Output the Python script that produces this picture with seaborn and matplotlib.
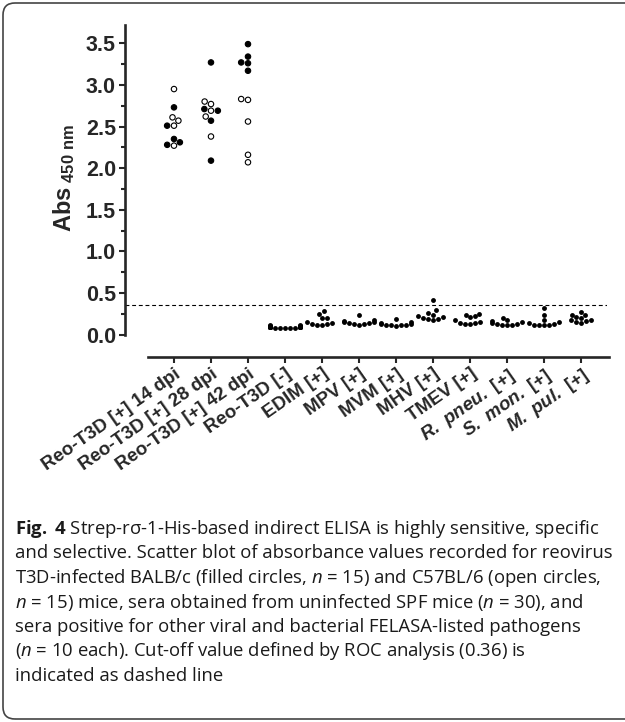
import numpy as np
import pandas as pd
import matplotlib
matplotlib.use("Agg")
import matplotlib.pyplot as plt
import seaborn as sns
from matplotlib.patches import FancyBboxPatch
from matplotlib.transforms import IdentityTransform
from matplotlib.ticker import MultipleLocator, FixedLocator, FormatStrFormatter

# --- Data ---
groups = ["Reo-T3D [+] 14 dpi", "Reo-T3D [+] 28 dpi", "Reo-T3D [+] 42 dpi",
          "Reo-T3D [-]", "EDIM [+]", "MPV [+]", "MVM [+]", "MHV [+]",
          "TMEV [+]", "R. pneu. [+]", "S. mon. [+]", "M. pul. [+]"]
tick_labels = ["Reo-T3D [+] 14 dpi", "Reo-T3D [+] 28 dpi", "Reo-T3D [+] 42 dpi",
               "Reo-T3D [-]", "EDIM [+]", "MPV [+]", "MVM [+]", "MHV [+]",
               "TMEV [+]", r"$\mathsf{R.\ pneu.}$ [+]",
               r"$\mathsf{S.\ mon.}$ [+]", r"$\mathsf{M.\ pul.}$ [+]"]

# infected mice: BALB/c (filled) and C57BL/6 (open)
balb_14 = [2.73, 2.51, 2.35, 2.31, 2.28]
c57_14 = [2.95, 2.61, 2.57, 2.51, 2.27]
balb_28 = [3.27, 2.71, 2.69, 2.57, 2.09]
c57_28 = [2.80, 2.77, 2.69, 2.62, 2.38]
balb_42 = [3.49, 3.34, 3.27, 3.26, 3.17]
c57_42 = [2.83, 2.82, 2.56, 2.16, 2.07]

# uninfected SPF mice (n = 30)
uninfected = [0.11, 0.11, 0.10, 0.10, 0.10, 0.10, 0.10, 0.10, 0.095, 0.095,
              0.095, 0.095, 0.09, 0.09, 0.09, 0.09, 0.09, 0.09, 0.09, 0.09,
              0.085, 0.085, 0.085, 0.085, 0.085, 0.08, 0.08, 0.08, 0.08, 0.075]

# other FELASA pathogens (n = 10 each)
edim = [0.28, 0.25, 0.20, 0.20, 0.15, 0.14, 0.13, 0.13, 0.12, 0.12]
mpv = [0.23, 0.17, 0.16, 0.15, 0.15, 0.14, 0.14, 0.13, 0.13, 0.12]
mvm = [0.19, 0.15, 0.14, 0.13, 0.13, 0.12, 0.12, 0.11, 0.11, 0.10]
mhv = [0.41, 0.29, 0.26, 0.24, 0.22, 0.21, 0.20, 0.19, 0.19, 0.18]
tmev = [0.25, 0.24, 0.22, 0.21, 0.17, 0.15, 0.14, 0.14, 0.13, 0.13]
rpneu = [0.20, 0.17, 0.16, 0.15, 0.14, 0.13, 0.13, 0.12, 0.12, 0.11]
smon = [0.32, 0.24, 0.17, 0.15, 0.14, 0.13, 0.12, 0.12, 0.11, 0.11]
mpul = [0.27, 0.24, 0.23, 0.21, 0.20, 0.18, 0.17, 0.16, 0.15, 0.14]

cutoff = 0.36

caption_lines = [
    r"$\mathbf{Fig.}$ $\mathbf{4}$ Strep-rσ-1-His-based indirect ELISA is highly sensitive, specific",
    "and selective. Scatter blot of absorbance values recorded for reovirus",
    r"T3D-infected BALB/c (filled circles, $n$ = 15) and C57BL/6 (open circles,",
    r"$n$ = 15) mice, sera obtained from uninfected SPF mice ($n$ = 30), and",
    "sera positive for other viral and bacterial FELASA-listed pathogens",
    r"($n$ = 10 each). Cut-off value defined by ROC analysis (0.36) is",
    "indicated as dashed line",
]

# --- Build long tables ---
rows = []
for g, b, c in [(groups[0], balb_14, c57_14), (groups[1], balb_28, c57_28),
                (groups[2], balb_42, c57_42)]:
    rows += [(g, "BALB/c", v) for v in b]
    rows += [(g, "C57BL/6", v) for v in c]
infected = pd.DataFrame(rows, columns=["group", "strain", "value"])

rows = []
for g, vals in zip(groups[3:], [uninfected, edim, mpv, mvm, mhv, tmev, rpneu, smon, mpul]):
    rows += [(g, v) for v in vals]
others = pd.DataFrame(rows, columns=["group", "value"])

# --- Style ---
sns.set_style("ticks")
plt.rcParams["font.family"] = ["Liberation Sans", "DejaVu Sans"]
plt.rcParams["mathtext.fontset"] = "custom"
plt.rcParams["mathtext.sf"] = "Liberation Sans:italic:bold"
plt.rcParams["mathtext.tt"] = "Liberation Sans:bold"
plt.rcParams["mathtext.bf"] = "Open Sans:bold"
plt.rcParams["mathtext.it"] = "Open Sans:italic"
plt.rcParams["mathtext.rm"] = "Open Sans"

fig = plt.figure(figsize=(6.25, 7.22), dpi=100)
ax = fig.add_axes([0.2, 0.5055, 0.771, 0.4599])

sns.swarmplot(data=infected, x="group", y="value", hue="strain", order=groups,
              palette={"BALB/c": "black", "C57BL/6": "white"},
              edgecolor="black", linewidth=0.8, size=3.9, legend=False,
              warn_thresh=1, ax=ax)
sns.swarmplot(data=others, x="group", y="value", order=groups, color="black",
              size=3.5, warn_thresh=1, ax=ax)

ax.axhline(cutoff, color="black", lw=0.8, ls=(0, (3.5, 2.5)), zorder=0)

ax.set_xlim(-1.324, 11.70)
ax.set_ylim(-0.27, 3.72)
ax.spines["top"].set_visible(False)
ax.spines["right"].set_visible(False)
ax.spines["left"].set_bounds(0, 3.72)
ax.spines["bottom"].set_bounds(-0.7, 11.75)
for s in ["left", "bottom"]:
    ax.spines[s].set_linewidth(1.9)

ax.yaxis.set_major_locator(MultipleLocator(0.5))
ax.yaxis.set_minor_locator(FixedLocator([0.25, 0.75, 1.25, 1.75, 2.25, 2.75, 3.25]))
ax.yaxis.set_major_formatter(FormatStrFormatter("%.1f"))
ax.tick_params(axis="y", which="major", length=4.5, width=1.5, labelsize=15.5, pad=2)
ax.tick_params(axis="y", which="minor", length=3, width=1.5)
ax.tick_params(axis="x", length=4, width=1.5, pad=2)
for t in ax.get_yticklabels():
    t.set_fontweight("bold")

ax.set_xticks(range(len(groups)))
ax.set_xticklabels(tick_labels, rotation=35, ha="right", va="top",
                   rotation_mode="anchor", fontsize=13.5, fontweight="bold")

ax.set_xlabel("")
ax.set_ylabel(r"Abs$_{\mathtt{\ 450\ nm}}$", fontsize=17, fontweight="bold")
ax.yaxis.set_label_coords(-0.10, 0.54)

# caption
for i, line in enumerate(caption_lines):
    fig.text(0.024, 1 - (529 + i * 24.5) / 722, line, fontsize=13.3,
             family="Open Sans", fontweight="normal", color="#1a1a1a", va="center")

# rounded frame around figure
frame = FancyBboxPatch((3, 3), 650, 716, boxstyle="round,pad=0,rounding_size=12",
                       transform=IdentityTransform(), fill=False,
                       edgecolor="#444444", lw=1.2)
fig.add_artist(frame)

fig.savefig("out.png", dpi=100)
